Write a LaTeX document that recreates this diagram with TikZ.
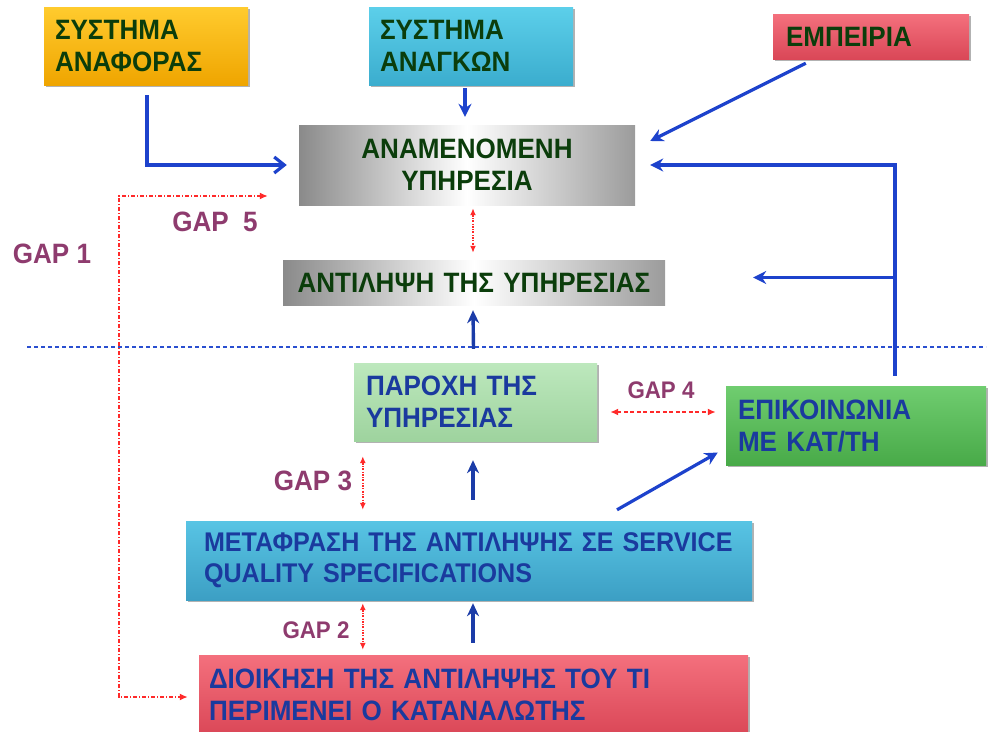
\documentclass[tikz,border=0pt]{standalone}
\usepackage{fontspec}
\setmainfont{Liberation Sans}[FakeStretch=0.93, BoldFeatures={FakeStretch=0.93}]
\usetikzlibrary{arrows.meta,calc,shadows}

\definecolor{txtgreen}{HTML}{0B3D0B}
\definecolor{txtblue}{HTML}{1A3A9E}
\definecolor{gapcol}{HTML}{8E3B6E}
\definecolor{arrblue}{HTML}{1D42CC}
\definecolor{arrnavy}{HTML}{1B3CA8}
\definecolor{gapred}{HTML}{FF2A2A}
\definecolor{sepblue}{HTML}{2A4FD0}
\definecolor{orangeT}{HTML}{FFCB2E}
\definecolor{orangeB}{HTML}{EFA500}
\definecolor{cyanT}{HTML}{5CCFEA}
\definecolor{cyanB}{HTML}{3BADCE}
\definecolor{redT}{HTML}{F4707D}
\definecolor{redB}{HTML}{DA4757}
\definecolor{paleT}{HTML}{BDE8BD}
\definecolor{paleB}{HTML}{9ED39E}
\definecolor{greenT}{HTML}{70CD70}
\definecolor{greenB}{HTML}{48AA48}
\definecolor{blueT}{HTML}{58C4E4}
\definecolor{blueB}{HTML}{3C9FC4}
\definecolor{greyedge}{HTML}{8A8A8A}

\tikzset{
  box/.style={rectangle, inner ysep=0pt, align=left,
    font=\bfseries\fontsize{28}{32}\selectfont,
    drop shadow={shadow xshift=1.5pt, shadow yshift=-2pt, opacity=0.3, fill=black}},
  greybox/.style={rectangle, inner ysep=0pt, align=center,
    left color=greyedge, right color=greyedge!85, middle color=white,
    font=\bfseries\fontsize{28}{32}\selectfont, text=txtgreen},
  gaplabel/.style={font=\bfseries\fontsize{28}{30}\selectfont, text=gapcol, inner sep=0pt},
  gapsmall/.style={font=\bfseries\fontsize{24}{26}\selectfont, text=gapcol, inner sep=0pt},
  flow/.style={draw=arrblue, line width=3.2pt, -{Stealth[length=13pt,width=13pt]}},
  upflow/.style={draw=arrnavy, line width=3.4pt, -{Stealth[length=13pt,width=12pt]}},
  gapline/.style={draw=gapred, line width=1.6pt, dash pattern=on 4pt off 2.5pt,
    {Latex[length=8pt,width=7pt]}-{Latex[length=8pt,width=7pt]}},
  gapvert/.style={draw=gapred, line width=1.4pt, dash pattern=on 2pt off 1.5pt on 0.6pt off 1.5pt,
    {Latex[length=7pt,width=6pt]}-{Latex[length=7pt,width=6pt]}}
}

\begin{document}
\begin{tikzpicture}[x=1pt,y=-1pt]
\useasboundingbox (0,0) rectangle (988,731);

% upper row of inputs
\node[box, top color=orangeT, bottom color=orangeB, text=txtgreen,
      minimum width=204pt, minimum height=78pt, inner xsep=11pt, text width=182pt]
      (anaf) at (146,46) {ΣΥΣΤΗΜΑ\\ΑΝΑΦΟΡΑΣ};
\node[box, top color=cyanT, bottom color=cyanB, text=txtgreen,
      minimum width=204pt, minimum height=78pt, inner xsep=11pt, text width=182pt]
      (anag) at (471,46) {ΣΥΣΤΗΜΑ\\ΑΝΑΓΚΩΝ};
\node[box, top color=redT, bottom color=redB, text=txtgreen,
      minimum width=196pt, minimum height=45pt, inner xsep=13pt, text width=170pt]
      (emp) at (871,36.5) {ΕΜΠΕΙΡΙΑ};

% expected and perceived service
\node[greybox, minimum width=336pt, minimum height=80pt, text width=320pt]
      (anam) at (467,165) {ΑΝΑΜΕΝΟΜΕΝΗ\\ΥΠΗΡΕΣΙΑ};
\node[greybox, minimum width=382pt, minimum height=45pt, text width=370pt]
      (antil) at (474,282.5) {ΑΝΤΙΛΗΨΗ ΤΗΣ ΥΠΗΡΕΣΙΑΣ};

% boundary between customer and provider
\coordinate (sepL) at (27,347);
\coordinate (sepR) at (986,347);
\draw[sepblue, line width=1.1pt, dash pattern=on 4pt off 3pt] (sepL) -- (sepR);

% provider side
\node[box, top color=paleT, bottom color=paleB, text=txtblue,
      minimum width=243pt, minimum height=78pt, inner xsep=12pt, text width=219pt]
      (parox) at (475.5,402) {ΠΑΡΟΧΗ ΤΗΣ\\ΥΠΗΡΕΣΙΑΣ};
\node[box, top color=greenT, bottom color=greenB, text=txtblue,
      minimum width=260pt, minimum height=79pt, inner xsep=12pt, text width=236pt]
      (epik) at (856,425.5) {ΕΠΙΚΟΙΝΩΝΙΑ\\ΜΕ ΚΑΤ/ΤΗ};
\node[box, top color=blueT, bottom color=blueB, text=txtblue,
      font=\bfseries\fontsize{27}{31}\selectfont,
      minimum width=566pt, minimum height=79pt, inner xsep=18pt, text width=530pt]
      (metaf) at (469,560.5) {ΜΕΤΑΦΡΑΣΗ~ΤΗΣ~ΑΝΤΙΛΗΨΗΣ~ΣΕ~SERVICE\\QUALITY~SPECIFICATIONS};
\node[box, top color=redT, bottom color=redB, text=txtblue,
      minimum width=549pt, minimum height=80pt, inner xsep=10pt, text width=529pt]
      (dioik) at (473.5,695) {ΔΙΟΙΚΗΣΗ ΤΗΣ ΑΝΤΙΛΗΨΗΣ ΤΟΥ ΤΙ\\ΠΕΡΙΜΕΝΕΙ Ο ΚΑΤΑΝΑΛΩΤΗΣ};

% inputs into the expected service
\draw[draw=arrblue, line width=3.2pt, -{Straight Barb[length=10pt,width=16pt]}]
  ($(anaf.south)+(1,10)$) |- ($(anam.west)+(-12,0)$);
\draw[flow] ($(anag.south)+(-6,3)$) -- ($(anam.north)+(-2,-8)$);
\draw[flow] ($(emp.south west)+(33,4)$) -- ($(anam.east)+(15,-24)$);

% feedback from communication with the customer
\coordinate (fb) at ($(epik.north)+(39,-10)$);
\coordinate (fbmid) at ($(fb |- antil.east)+(0,-5)$);
\draw[flow] (fb) |- ($(anam.east)+(15,0)$);
\draw[flow] (fbmid) -- ($(antil.east)+(88,-5)$);

% delivery chain
\draw[upflow] ($(parox.north)+(-2,-14)$) -- ($(antil.south)+(-1,5)$);
\draw[upflow] ($(metaf.north)+(4,-21)$) -- ($(parox.south)+(-2.5,19)$);
\draw[upflow] ($(dioik.north)+(-0.5,-12)$) -- ($(metaf.south)+(4,3)$);
\draw[flow] ($(metaf.north)+(148,-11)$) -- ($(epik.west)+(-8,27)$);

% gaps
\draw[gapvert] ($(anam.south)+(6,3)$) -- ($(antil.north)+(-1,-7)$);
\draw[gapline] ($(parox.east)+(13,10)$) -- ($(epik.west)+(-10,-13.5)$);
\draw[gapvert] ($(parox.south west)+(9,15)$) -- ($(metaf.north west)+(177,-11)$);
\draw[gapvert] ($(metaf.south west)+(177,3)$) -- ($(dioik.north west)+(164,-5)$);
\draw[gapred, line width=1.5pt, dash pattern=on 4pt off 2pt on 1pt off 2pt,
      {Latex[length=8pt,width=7pt]}-{Latex[length=8pt,width=7pt]}]
  ($(anam.west)+(-31,31)$) -| ($(dioik.west)+(-80,2)$) -- ($(dioik.west)+(-11,2)$);

\node[gaplabel] (g1) at (52,254) {GAP 1};
\node[gaplabel] (g5) at (215,222) {GAP\ \ 5};
\node[gaplabel] (g3) at (313,481) {GAP 3};
\node[gapsmall] (g2) at (316,630) {GAP 2};
\node[gapsmall] (g4) at (661,390) {GAP 4};
\end{tikzpicture}
\end{document}
